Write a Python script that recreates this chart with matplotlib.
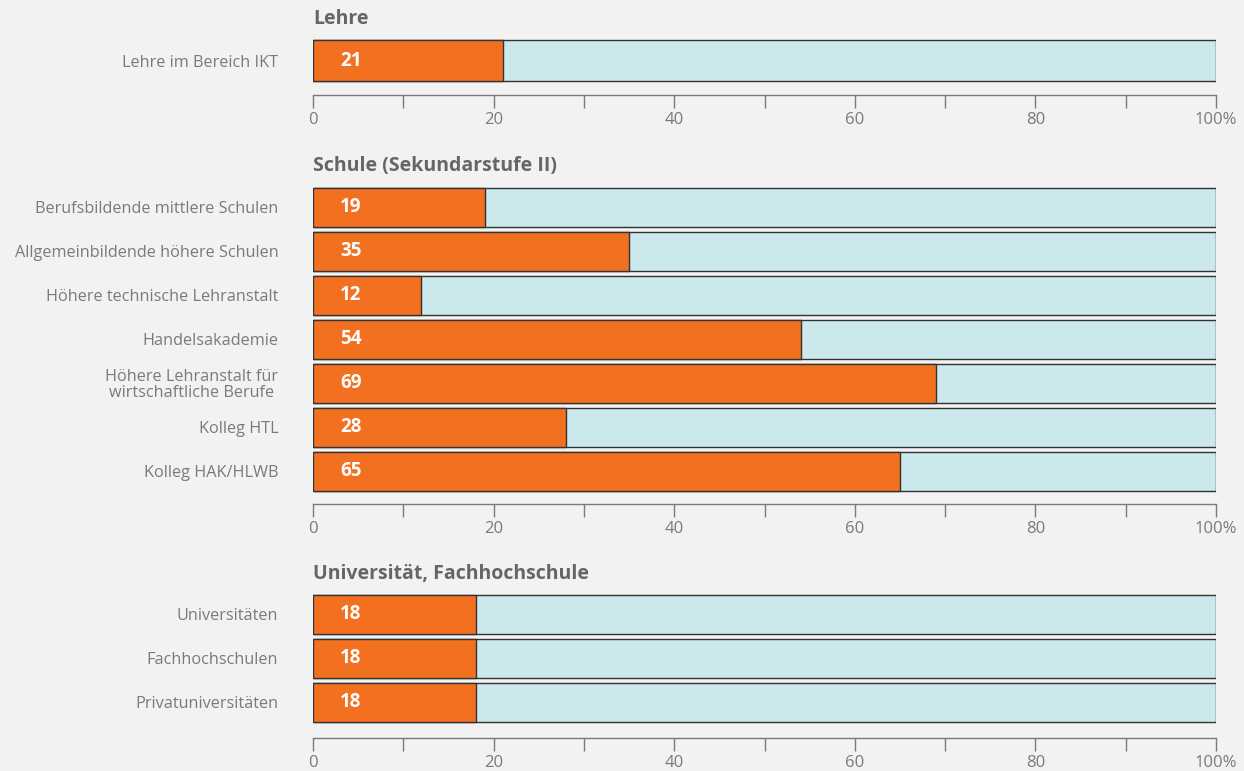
import matplotlib.pyplot as plt
from matplotlib.ticker import MultipleLocator

# Daten
lehre_labels = ["Lehre im Bereich IKT"]
lehre_values = [21]

schule_labels = [
    "Berufsbildende mittlere Schulen",
    "Allgemeinbildende höhere Schulen",
    "Höhere technische Lehranstalt",
    "Handelsakademie",
    "Höhere Lehranstalt für\nwirtschaftliche Berufe ",
    "Kolleg HTL",
    "Kolleg HAK/HLWB",
]
schule_values = [19, 35, 12, 54, 69, 28, 65]

uni_labels = ["Universitäten", "Fachhochschulen", "Privatuniversitäten"]
uni_values = [18, 18, 18]

titles = ["Lehre", "Schule (Sekundarstufe II)", "Universität, Fachhochschule"]
tick_values = [0, 20, 40, 60, 80, 100]
tick_labels = ["0", "20", "40", "60", "80", "100%"]

ORANGE = "#f37021"
LIGHT = "#cbe8ec"
BG = "#f2f2f2"
GREY = "#7a7a7a"

plt.rcParams["font.family"] = ["Open Sans", "DejaVu Sans"]

W, H = 1244, 771
fig = plt.figure(figsize=(W / 100, H / 100), dpi=100, facecolor=BG)

x0, x1 = 313, 1216
# (oben px, Achsenlinie px, Rand unten in Einheiten)
layout = [
    (37.5, 95, 0.74),
    (185.5, 504, 0.74),
    (592.5, 738, 0.807),
]
groups = [
    (lehre_labels, lehre_values),
    (schule_labels, schule_values),
    (uni_labels, uni_values),
]

for (top, bottom, margin), (labels, values), title in zip(layout, groups, titles):
    n = len(labels)
    ax = fig.add_axes([x0 / W, 1 - bottom / H, (x1 - x0) / W, (bottom - top) / H])
    ax.set_facecolor("none")
    pos = list(range(n))
    bh = 39 / 44
    ax.barh(pos, [100] * n, height=bh, color=LIGHT, edgecolor="#333333", linewidth=1)
    ax.barh(pos, values, height=bh, color=ORANGE, edgecolor="#333333", linewidth=1)
    for p, v in zip(pos, values):
        ax.text(4.2, p, str(v), color="white", fontsize=13.5, fontweight="bold",
                ha="center", va="center")

    ax.set_xlim(0, 100)
    ax.set_ylim(n - 1 + margin, -0.5)
    ax.set_yticks(pos)
    ax.set_yticklabels(labels, fontsize=11.7, color=GREY, linespacing=1.0)
    ax.tick_params(axis="y", length=0, pad=25)
    for t in ax.get_yticklabels():
        t.set_horizontalalignment("right")

    ax.set_xticks(tick_values)
    ax.set_xticklabels(tick_labels, fontsize=12, color=GREY)
    ax.xaxis.set_minor_locator(MultipleLocator(10))
    ax.tick_params(axis="x", which="both", length=9, width=1, color=GREY,
                   direction="out", pad=3)

    for s in ["top", "right", "left"]:
        ax.spines[s].set_visible(False)
    ax.spines["bottom"].set_color(GREY)
    ax.spines["bottom"].set_linewidth(1)

    fig.text(x0 / W, 1 - (top - 19) / H, title, fontsize=14, fontweight="bold",
             color="#666666", ha="left", va="center")

fig.savefig("out.png", dpi=100, facecolor=BG)
